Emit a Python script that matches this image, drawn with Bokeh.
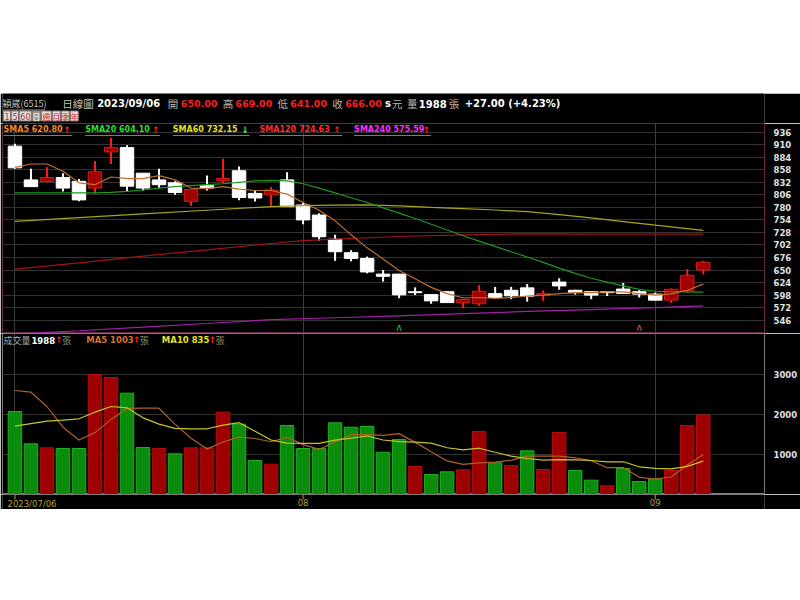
from bokeh.plotting import figure
from bokeh.models import Range1d, FixedTicker, Label, BoxAnnotation, Spacer, ColumnDataSource
from bokeh.layouts import column
from bokeh.embed import file_html
from bokeh.resources import INLINE
from bokeh.core.properties import value

# ------------------------------------------------------------------ data
month_tick_idx = [0, 18, 40]
month_tick_labels = ["2023/07/06", "08", "09"]

opens = [907, 837, 833.5, 842, 834, 820, 895, 904, 851, 837, 831, 792.5, 825, 835.5, 856, 809,
         806, 837, 785, 764, 714, 686, 674, 641.5, 641.5, 605, 599, 605, 582.4, 580, 601, 608,
         613, 597, 625, 608, 605, 605, 610.5, 605, 600, 587.5, 607, 650]
highs = [912, 860, 863, 851, 839, 876, 924, 909, 851, 860, 834, 817, 846, 881, 865, 816,
         822, 853, 790, 768, 723, 691, 678, 650, 642, 614, 599, 606, 589, 619, 615, 615,
         621, 608, 633, 609, 605, 605, 623, 608, 603, 612, 652, 669]
lows = [860, 823, 832, 813, 792.5, 808, 870, 813, 815, 820, 806, 783.5, 815, 830, 795, 792,
        783.5, 781, 745, 711, 669, 668, 643, 626, 591.5, 598, 580, 582, 571, 575.5, 591, 589.5,
        584.5, 586, 609, 599, 589.5, 596, 601, 593, 587, 582, 603, 641]
closes = [862, 823, 842, 820, 795.5, 854, 904, 824, 820, 827, 811, 817, 820, 840, 800.5, 799.5,
          816, 781.5, 754, 719, 688, 674, 646, 637, 598.5, 603, 586, 582.4, 588.7, 606, 593, 596.5,
          595.5, 601, 617, 603, 598, 603, 601.5, 600, 587.5, 610, 639, 666]
volumes = [2075, 1267, 1167, 1150, 1150, 3000, 2925, 2533, 1175, 1150, 1017, 1167, 1167, 2058,
           1758, 850, 758, 1725, 1150, 1150, 1792, 1683, 1700, 1058, 1375, 700, 500, 567, 617,
           1575, 792, 725, 1092, 625, 1550, 600, 358, 217, 650, 325, 392, 600, 1725, 1988]

sma5 = [863, 870, 870, 855, 831, 827, 843, 839.5, 839.5, 846, 837, 820, 819, 823, 818, 815,
        815, 807.5, 790, 774, 752, 723, 696, 673, 649, 632, 614, 601, 592, 593, 591, 593,
        596, 598, 601, 603, 603, 604.5, 604.5, 601, 598, 600.5, 608, 620.8]
sma20 = [810, 810, 810, 810, 810, 810, 811, 813, 816, 820, 823, 825, 827, 829, 832, 835,
         836, 835, 829, 820, 810, 800, 790, 779, 768, 757, 745, 733, 721, 710, 699, 688,
         677, 666, 654, 643, 633, 625, 617, 610, 606, 605, 604.5, 604.1]
sma60_idx = [0, 4, 8, 12, 16, 18, 20, 22, 24, 26, 28, 30, 32, 34, 36, 38, 40, 42, 43]
sma60 = [751, 758.7, 766.4, 774, 781.7, 783.5, 784.5, 785, 783, 780, 777.5, 774.5, 771, 765,
         758, 750.5, 743, 736, 732.15]
sma120_idx = [0, 4, 8, 12, 16, 18, 20, 24, 28, 32, 36, 40, 43]
sma120 = [652, 665, 679, 692, 705, 711, 714, 719.5, 723, 725, 724.5, 724.5, 724.63]
sma240_idx = [0, 2, 4, 8, 12, 16, 20, 24, 28, 32, 36, 40, 43]
sma240 = [516.5, 520.5, 524, 531.5, 539, 547, 551, 555, 559.5, 564, 568, 572, 575.59]

vol_ma5 = [2600, 2558, 2200, 1683, 1362, 1547, 1878, 2152, 2157, 2157, 1760, 1408, 1135, 1312,
           1433, 1400, 1318, 1430, 1248, 1127, 1315, 1500, 1495, 1477, 1522, 1303, 1067, 840,
           752, 792, 810, 855, 960, 962, 957, 918, 845, 670, 675, 430, 388, 437, 738, 1003]
vol_ma10 = [1708, 1770, 1833, 1860, 1892, 2058, 2200, 2167, 1917, 1759, 1653, 1643, 1643, 1734,
            1795, 1580, 1363, 1283, 1280, 1280, 1358, 1409, 1462, 1362, 1324, 1309, 1283, 1168,
            1114, 1157, 1057, 961, 900, 857, 874, 864, 850, 815, 818, 693, 653, 641, 704, 835]

price_ticks = [546, 572, 598, 624, 650, 676, 702, 728, 754, 780, 806, 832, 858, 884, 910, 936]
vol_ticks = [1000, 2000, 3000]
signal_green_idx = [24]
signal_brown_idx = [39]

header_date = "2023/09/06"
hdr_open, hdr_high, hdr_low, hdr_close = "650.00", "669.00", "641.00", "666.00"
hdr_vol = "1988"
hdr_change = "+27.00 (+4.23%)"
period_buttons = ["1", "5", "60", "日", "週", "月", "季", "年"]
sma_legend = [("SMA5 620.80", "↑"), ("SMA20 604.10", "↑"), ("SMA60 732.15", "↓"),
              ("SMA120 724.63", "↑"), ("SMA240 575.59", "↑")]
vol_legend = [("1988", "↑"), ("MA5 1003", "↑"), ("MA10 835", "↑")]

# ------------------------------------------------------------------ layout helpers
FIG_W = 800
PX0, STEP = 14.5, 16.07          # page x of first bar centre, px per bar
FRAME_L, FRAME_R = 2, 767
BL, BR = FRAME_L, FIG_W - FRAME_R
TOP0 = 93                        # page y where the black chart starts
HDR_H, PRICE_H, VOL_H, DATE_H = 30, 210, 161, 15
P_TOP = TOP0 + HDR_H
P_BOT = P_TOP + PRICE_H
V_TOP = P_BOT
V_BOT = V_TOP + VOL_H
D_TOP = V_BOT
D_BOT = D_TOP + DATE_H
P_MAX, P_MIN = 954.0, 518.3
V_MAX = 4025.0


def dx(px):
    return (px - PX0) / STEP


def py_price(py):
    return P_MAX - (py - P_TOP) * (P_MAX - P_MIN) / (P_BOT - P_TOP)


def py_vol(py):
    return V_MAX - (py - V_TOP) * V_MAX / (V_BOT - V_TOP)


def py_hdr(py):
    return P_TOP - py


def py_date(py):
    return D_BOT - py


FONT = "DejaVu Sans"
CJK = "Noto Sans CJK TC"
BG = "#000000"


def lab(fig, px, y, text, color, size="10px", bold=False, font=FONT,
        align="left", baseline="middle"):
    fig.add_layout(Label(x=dx(px), y=y, x_units="data", y_units="data", text=text,
                         text_color=color, text_font=font, text_font_size=size,
                         text_font_style="bold" if bold else "normal",
                         text_align=align, text_baseline=baseline))


def box(fig, x0, x1, y0, y1, fill, line=None):
    fig.add_layout(BoxAnnotation(left=dx(x0), right=dx(x1), bottom=y0, top=y1,
                                 fill_color=fill, fill_alpha=1,
                                 line_color=line, line_alpha=1 if line else 0))


def panel(height, y_range, outline=None, y_axis=None):
    return figure(width=FIG_W, height=height, output_backend="svg", toolbar_location=None,
                  x_range=xr, y_range=y_range, x_axis_location=None, y_axis_location=y_axis,
                  min_border_left=BL, min_border_right=BR, min_border_top=0, min_border_bottom=0,
                  background_fill_color=BG, border_fill_color=BG, outline_line_color=outline)


n = len(closes)
idx = list(range(n))
xr = Range1d(dx(FRAME_L), dx(FRAME_R))

# ------------------------------------------------------------------ header strip
h = panel(HDR_H, Range1d(0, HDR_H))
h.xgrid.visible = False
h.ygrid.visible = False
hy = py_hdr(103)
lab(h, 2, hy, "穎崴(6515)", "#c0c0c0", size="9px", font=CJK)
box(h, 2, 45, py_hdr(110), py_hdr(109), "#9a9a9a")
lab(h, 62, hy, "日線圖", "#c0c0c0", size="10.5px", font=CJK)
lab(h, 97, hy, header_date, "#ffffff", bold=True)
for px, t in [(168, "開"), (223, "高"), (278, "低"), (333, "收"), (393, "元"), (408, "量"), (450, "張")]:
    lab(h, px, hy, t, "#b8b8b8", size="10.5px", font=CJK)
for px, t in [(181, hdr_open), (236, hdr_high), (291, hdr_low), (346, hdr_close)]:
    lab(h, px, hy, t, "#ff1e1e", size="9.5px", bold=True)
lab(h, 386, hy, "s", "#ffffff", bold=True)
lab(h, 420, hy, hdr_vol, "#ffffff", bold=True)
lab(h, 466, hy, hdr_change, "#ffffff", bold=True)

btn_x = [(3, 10), (11, 18), (19, 31), (32, 40), (41, 51), (52, 60), (61, 69), (70, 78)]
for t, (x0, x1) in zip(period_buttons, btn_x):
    if t == "日":
        bgc, tc = "#9a9a9a", "#ffffff"
    elif t.isdigit():
        bgc, tc = "#e2dada", "#b83030"
    else:
        bgc, tc = "#ecdcdc", "#d02828"
    box(h, x0, x1, py_hdr(120.5), py_hdr(110.5), bgc, "#8a7a7a")
    lab(h, (x0 + x1) / 2, py_hdr(115.7), t, tc, size="8px",
        font=FONT if t.isdigit() else CJK, align="center")

# ------------------------------------------------------------------ price figure
p = panel(PRICE_H, Range1d(P_MIN, P_MAX), outline="#6a2848", y_axis="right")
p.yaxis.ticker = FixedTicker(ticks=price_ticks)
p.yaxis.axis_line_color = None
p.yaxis.major_tick_line_color = None
p.yaxis.minor_tick_line_color = None
p.yaxis.major_label_standoff = 3
p.yaxis.major_label_text_color = "#e0e0e0"
p.yaxis.major_label_text_font = FONT
p.yaxis.major_label_text_font_size = "8.5px"
p.yaxis.major_label_text_font_style = "bold"
p.ygrid.grid_line_color = "#333333"
p.xgrid.ticker = FixedTicker(ticks=month_tick_idx)
p.xgrid.grid_line_color = "#3e3e3e"

up = [c >= o for o, c in zip(opens, closes)]
csrc = ColumnDataSource(dict(
    x=idx, high=highs, low=lows,
    top=[max(o, c) for o, c in zip(opens, closes)],
    bot=[min(o, c) for o, c in zip(opens, closes)],
    wick=["#ff1c1c" if u else "#ffffff" for u in up],
    fill=["#a00000" if u else "#ffffff" for u in up],
    line=["#d81818" if u else "#ffffff" for u in up],
))
p.segment(x0="x", y0="low", x1="x", y1="high", line_color="wick", line_width=2, source=csrc)
p.vbar(x="x", width=0.84, top="top", bottom="bot", fill_color="fill", line_color="line",
       line_width=1, source=csrc)

p.line(sma240_idx, sma240, line_color="#a020a8", line_width=1.2)
p.line(sma120_idx, sma120, line_color="#a01414", line_width=1.2)
p.line(sma60_idx, sma60, line_color="#a8a41c", line_width=1.2)
p.line(idx, sma20, line_color="#1c9a1c", line_width=1.2)
p.line(idx, sma5, line_color="#c0702c", line_width=1.2)

cy = py_price(326.5)
p.text(x=signal_green_idx, y=[cy] * len(signal_green_idx), text=["∧"] * len(signal_green_idx),
       text_color="#22b022", text_font=value(FONT), text_font_size="11px",
       text_align="center", text_baseline="middle")
p.text(x=signal_brown_idx, y=[cy] * len(signal_brown_idx), text=["∧"] * len(signal_brown_idx),
       text_color="#b0602a", text_font=value(FONT), text_font_size="11px",
       text_align="center", text_baseline="middle")

ly = py_price(129)
sma_cols = ["#f08a22", "#2ede2e", "#e2e024", "#ff2c2c", "#ff30ff"]
arrow_cols = {"↑": "#ff2020", "↓": "#30ff30"}
sma_x = [(3, 63, 72), (85, 152, 160), (173, 242, 250), (260, 334, 343), (355, 424, 432)]
for (txt, arr), col, (x0, xa, x1) in zip(sma_legend, sma_cols, sma_x):
    lab(p, x0, ly, txt, col, size="8px", bold=True)
    lab(p, xa, ly, arr, arrow_cols[arr], size="9px", bold=True)
    box(p, x0, x1, py_price(135.5), py_price(134.5), "#7a7a7a")

# ------------------------------------------------------------------ volume figure
v = panel(VOL_H, Range1d(0, V_MAX), outline="#7a7a7a", y_axis="right")
v.yaxis.ticker = FixedTicker(ticks=vol_ticks)
v.yaxis.axis_line_color = None
v.yaxis.major_tick_line_color = None
v.yaxis.minor_tick_line_color = None
v.yaxis.major_label_standoff = 3
v.yaxis.major_label_text_color = "#e0e0e0"
v.yaxis.major_label_text_font = FONT
v.yaxis.major_label_text_font_size = "8.5px"
v.yaxis.major_label_text_font_style = "bold"
v.ygrid.grid_line_color = "#333333"
v.xgrid.ticker = FixedTicker(ticks=month_tick_idx)
v.xgrid.grid_line_color = "#3e3e3e"

vol_up = [closes[0] >= opens[0]] + [closes[i] > closes[i - 1] for i in range(1, n)]
vsrc = ColumnDataSource(dict(
    x=idx, vol=volumes,
    fill=["#9c0000" if u else "#0c8c0c" for u in vol_up],
    line=["#b80a0a" if u else "#1cb01c" for u in vol_up],
))
v.vbar(x="x", width=0.84, top="vol", bottom=0, fill_color="fill", line_color="line",
       line_width=1, source=vsrc)
v.line(idx, vol_ma5, line_color="#b0602a", line_width=1.2)
v.line(idx, vol_ma10, line_color="#c8c428", line_width=1.2)

vy = py_vol(339.5)
lab(v, 3, vy, "成交量", "#a8a8a8", size="9px", font=CJK)
vl_cols = ["#ffffff", "#d2702e", "#e4e02a"]
vl_x = [(31, 55, 62), (86, 133, 140), (162, 209, 216)]
for (txt, arr), col, (x0, xa, xz) in zip(vol_legend, vl_cols, vl_x):
    lab(v, x0, vy, txt, col, size="8.5px", bold=True)
    lab(v, xa, vy, arr, "#ff2020", size="9px", bold=True)
    lab(v, xz, vy, "張", "#8c8a6a", size="9px", font=CJK)

# ------------------------------------------------------------------ date strip
d = panel(DATE_H, Range1d(0, DATE_H))
d.xgrid.visible = False
d.ygrid.visible = False
d.segment(x0=month_tick_idx, y0=[py_date(D_TOP)] * len(month_tick_idx),
          x1=month_tick_idx, y1=[py_date(D_TOP + 5)] * len(month_tick_idx),
          line_color="#b0a040", line_width=1)
dy = py_date(D_TOP + 4.5)
for i, (ti, tl) in enumerate(zip(month_tick_idx, month_tick_labels)):
    if i == 0:
        d.add_layout(Label(x=dx(7), y=dy, x_units="data", y_units="data", text=tl,
                           text_color="#b0a040", text_font=FONT, text_font_size="8.5px",
                           text_align="left", text_baseline="top"))
    else:
        d.add_layout(Label(x=ti, y=dy, x_units="data", y_units="data", text=tl,
                           text_color="#b0a040", text_font=FONT, text_font_size="8.5px",
                           text_align="center", text_baseline="top"))

layout = column(Spacer(width=FIG_W, height=TOP0), h, p, v, d)
open("out.html", "w").write(file_html(layout, INLINE))
